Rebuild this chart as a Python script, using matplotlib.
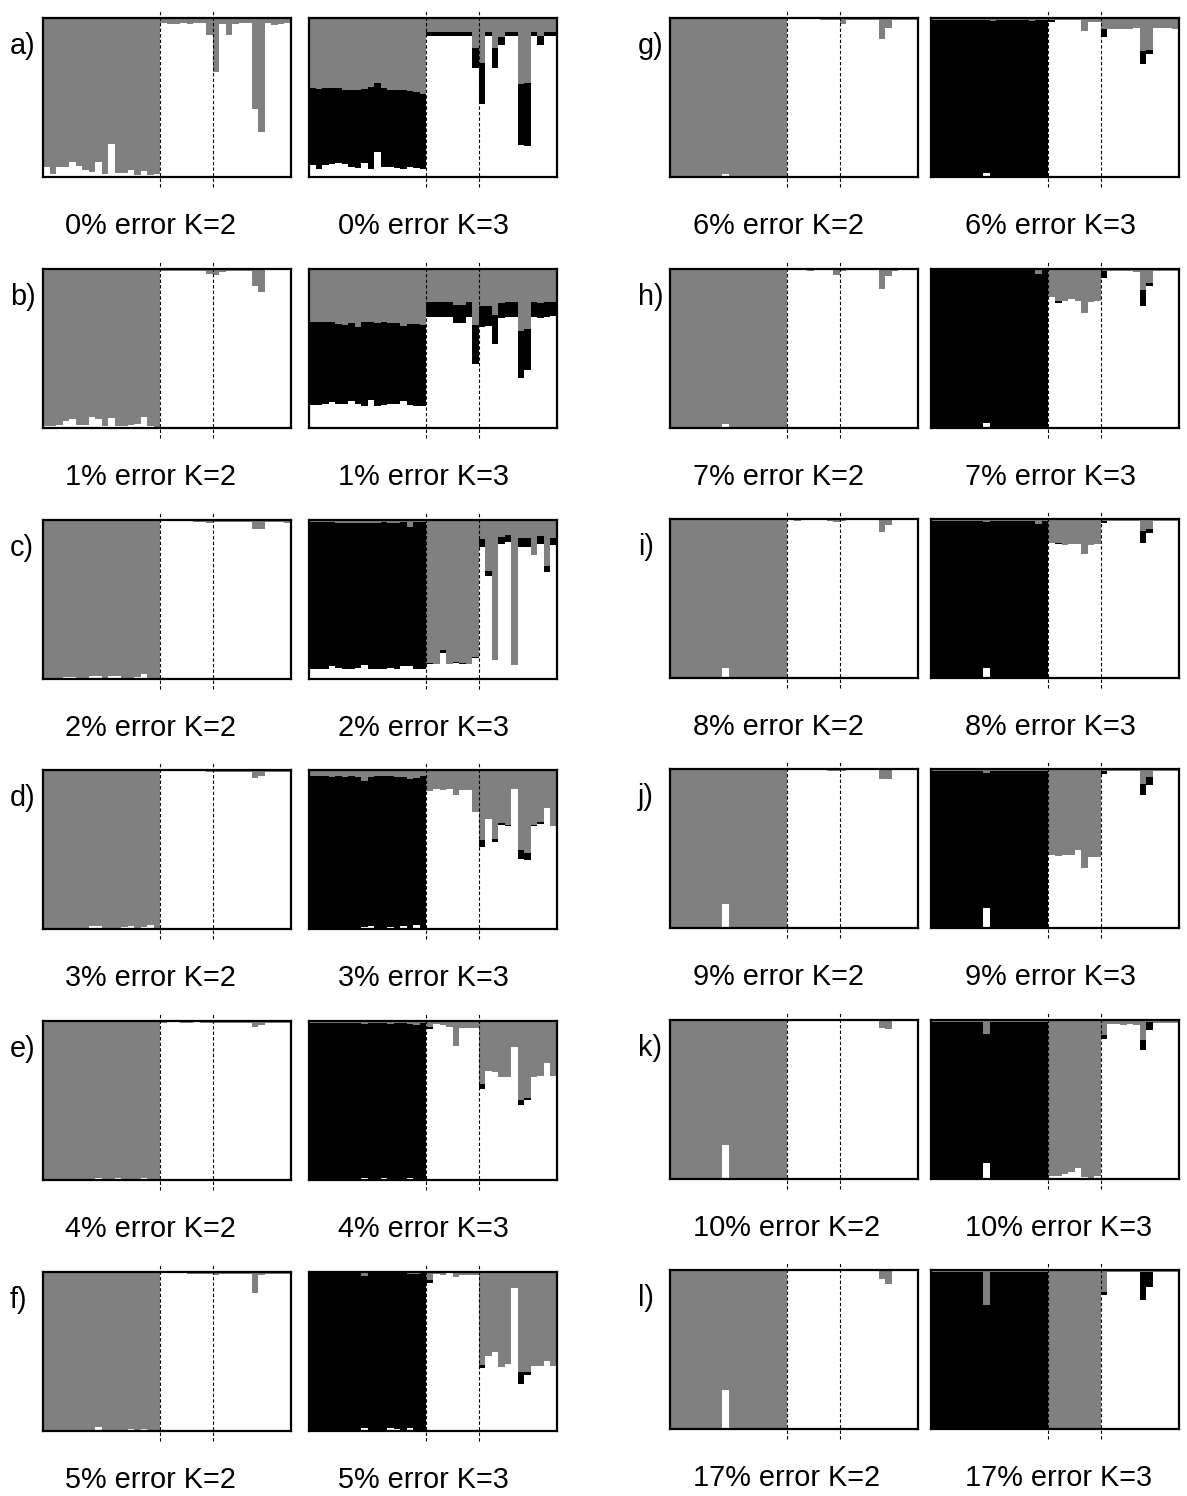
import matplotlib.pyplot as plt
import numpy as np

plt.rcParams['font.family'] = ['Liberation Sans', 'DejaVu Sans']

FIG_W, FIG_H = 1187, 1496
GRAY = '#808080'

# individuals per sampled population, in plotting order
POP_SIZES = [18, 8, 12]

# membership shares per individual: "white" cluster at the bottom,
# "black" cluster in the middle (K=3 only), grey cluster takes the rest

# a) 0% error
A_K2_WHITE = [0.064, 0.017, 0.064, 0.064, 0.095, 0.068, 0.042, 0.030, 0.095,
              0.017, 0.210, 0.028, 0.028, 0.042, 0.013, 0.038, 0.015, 0.020,
              0.970, 0.965, 0.965, 0.970, 0.965, 0.970, 0.970, 0.890,
              0.660, 0.965, 0.890, 0.960, 0.970, 0.970, 0.430, 0.280, 0.970, 0.955, 0.965, 0.970]
A_K3_WHITE = [0.075, 0.050, 0.075, 0.079, 0.090, 0.079, 0.064, 0.058, 0.090,
              0.050, 0.160, 0.064, 0.064, 0.058, 0.050, 0.064, 0.054, 0.050,
              0.884, 0.884, 0.884, 0.884, 0.884, 0.884, 0.884, 0.685,
              0.456, 0.884, 0.685, 0.830, 0.884, 0.884, 0.203, 0.193, 0.884, 0.830, 0.884, 0.884]
A_K3_BLACK = [0.482, 0.505, 0.482, 0.478, 0.467, 0.471, 0.482, 0.492, 0.465,
              0.513, 0.430, 0.493, 0.486, 0.492, 0.496, 0.478, 0.481, 0.475,
              0.030, 0.030, 0.030, 0.030, 0.030, 0.030, 0.030, 0.129,
              0.261, 0.030, 0.129, 0.048, 0.030, 0.030, 0.382, 0.400, 0.030, 0.054, 0.030, 0.030]

# b) 1% error
B_K2_WHITE = [0.013, 0.013, 0.022, 0.047, 0.054, 0.022, 0.022, 0.069, 0.054,
              0.011, 0.065, 0.011, 0.013, 0.017, 0.026, 0.069, 0.011, 0.004,
              0.990, 0.990, 0.988, 0.990, 0.988, 0.990, 0.985, 0.970,
              0.960, 0.980, 0.985, 0.990, 0.990, 0.990, 0.890, 0.855, 0.993, 0.993, 0.993, 0.993]
B_K3_WHITE = [0.143, 0.143, 0.154, 0.165, 0.150, 0.154, 0.171, 0.150, 0.137,
              0.176, 0.137, 0.143, 0.150, 0.154, 0.171, 0.143, 0.137, 0.137,
              0.700, 0.700, 0.700, 0.700, 0.662, 0.662, 0.700, 0.400,
              0.636, 0.640, 0.530, 0.690, 0.700, 0.700, 0.315, 0.364, 0.700, 0.690, 0.700, 0.706]
B_K3_BLACK = [0.525, 0.521, 0.514, 0.499, 0.501, 0.493, 0.487, 0.484, 0.527,
              0.492, 0.521, 0.521, 0.508, 0.508, 0.472, 0.508, 0.518, 0.510,
              0.092, 0.092, 0.092, 0.092, 0.113, 0.113, 0.092, 0.247,
              0.134, 0.130, 0.180, 0.096, 0.090, 0.090, 0.293, 0.261, 0.092, 0.096, 0.092, 0.086]

# c) 2% error
C_K2_WHITE = [0.004, 0.004, 0.004, 0.013, 0.013, 0.009, 0.009, 0.022, 0.022,
              0.009, 0.017, 0.017, 0.009, 0.009, 0.013, 0.034, 0.004, 0.004,
              0.994, 0.994, 0.992, 0.992, 0.992, 0.990, 0.990, 0.980,
              0.985, 0.990, 0.990, 0.990, 0.990, 0.990, 0.946, 0.942, 0.990, 0.990, 0.990, 0.983]
C_K3_WHITE = [0.060, 0.060, 0.060, 0.079, 0.070, 0.062, 0.062, 0.070, 0.085,
              0.062, 0.064, 0.066, 0.068, 0.064, 0.079, 0.081, 0.060, 0.060,
              0.096, 0.092, 0.164, 0.092, 0.100, 0.096, 0.092, 0.134,
              0.830, 0.645, 0.117, 0.851, 0.862, 0.090, 0.830, 0.830, 0.780, 0.851, 0.674, 0.840]
C_K3_BLACK = [0.930, 0.928, 0.925, 0.906, 0.913, 0.921, 0.918, 0.913, 0.895,
              0.918, 0.919, 0.919, 0.912, 0.919, 0.911, 0.876, 0.930, 0.930,
              0.004, 0.004, 0.020, 0.004, 0.004, 0.004, 0.004, 0.004,
              0.053, 0.035, 0.000, 0.043, 0.046, 0.000, 0.057, 0.057, 0.000, 0.047, 0.039, 0.047]

# d) 3% error
D_K2_WHITE = [0.004, 0.004, 0.004, 0.009, 0.009, 0.004, 0.009, 0.017, 0.017,
              0.009, 0.004, 0.009, 0.013, 0.017, 0.009, 0.013, 0.026, 0.004,
              0.995, 0.995, 0.995, 0.995, 0.995, 0.995, 0.995, 0.990,
              0.985, 0.990, 0.990, 0.990, 0.990, 0.990, 0.950, 0.960, 0.990, 0.990, 0.990, 0.990]
D_K3_WHITE = [0.004, 0.004, 0.004, 0.009, 0.004, 0.004, 0.009, 0.004, 0.015,
              0.017, 0.004, 0.009, 0.013, 0.009, 0.017, 0.009, 0.026, 0.004,
              0.865, 0.878, 0.872, 0.878, 0.840, 0.872, 0.872, 0.737,
              0.518, 0.694, 0.550, 0.657, 0.647, 0.878, 0.443, 0.433, 0.647, 0.660, 0.764, 0.650]
D_K3_BLACK = [0.960, 0.958, 0.956, 0.948, 0.956, 0.953, 0.953, 0.953, 0.916,
              0.940, 0.956, 0.951, 0.949, 0.948, 0.936, 0.933, 0.925, 0.960,
              0.000, 0.000, 0.000, 0.000, 0.000, 0.000, 0.000, 0.000,
              0.039, 0.000, 0.015, 0.011, 0.010, 0.000, 0.057, 0.042, 0.010, 0.012, 0.000, 0.000]

# e) 4% error
E_K2_WHITE = [0.006, 0.006, 0.009, 0.006, 0.006, 0.006, 0.009, 0.006, 0.015,
              0.006, 0.009, 0.015, 0.009, 0.009, 0.006, 0.013, 0.006, 0.004,
              0.990, 0.992, 0.992, 0.990, 0.990, 0.992, 0.990, 0.990,
              0.985, 0.990, 0.990, 0.990, 0.990, 0.990, 0.963, 0.974, 0.990, 0.990, 0.990, 0.990]
E_K3_WHITE = [0.006, 0.006, 0.009, 0.006, 0.006, 0.006, 0.009, 0.006, 0.010,
              0.006, 0.009, 0.011, 0.006, 0.009, 0.006, 0.010, 0.006, 0.004,
              0.948, 0.978, 0.974, 0.962, 0.840, 0.957, 0.957, 0.957,
              0.575, 0.683, 0.677, 0.650, 0.647, 0.834, 0.474, 0.504, 0.650, 0.655, 0.737, 0.655]
E_K3_BLACK = [0.979, 0.979, 0.976, 0.979, 0.979, 0.979, 0.976, 0.979, 0.968,
              0.979, 0.976, 0.974, 0.976, 0.976, 0.979, 0.968, 0.970, 0.981,
              0.012, 0.000, 0.000, 0.000, 0.000, 0.000, 0.000, 0.000,
              0.028, 0.000, 0.000, 0.000, 0.000, 0.000, 0.030, 0.013, 0.000, 0.000, 0.000, 0.000]

# f) 5% error
F_K2_WHITE = [0.004, 0.004, 0.006, 0.004, 0.004, 0.006, 0.006, 0.009, 0.026,
              0.006, 0.006, 0.009, 0.009, 0.013, 0.006, 0.013, 0.006, 0.004,
              0.994, 0.994, 0.994, 0.994, 0.990, 0.990, 0.990, 0.985,
              0.983, 0.990, 0.990, 0.990, 0.990, 0.990, 0.870, 0.980, 0.990, 0.990, 0.990, 0.990]
F_K3_WHITE = [0.004, 0.004, 0.006, 0.004, 0.004, 0.006, 0.006, 0.009, 0.021,
              0.006, 0.006, 0.009, 0.019, 0.015, 0.006, 0.021, 0.006, 0.004,
              0.930, 0.990, 0.983, 0.994, 0.968, 0.979, 0.979, 0.979,
              0.394, 0.474, 0.500, 0.404, 0.419, 0.900, 0.298, 0.351, 0.410, 0.410, 0.443, 0.410]
F_K3_BLACK = [0.990, 0.990, 0.988, 0.990, 0.990, 0.988, 0.988, 0.985, 0.951,
              0.988, 0.988, 0.985, 0.975, 0.979, 0.988, 0.964, 0.982, 0.990,
              0.017, 0.000, 0.000, 0.000, 0.000, 0.000, 0.000, 0.000,
              0.021, 0.000, 0.000, 0.000, 0.000, 0.000, 0.070, 0.017, 0.000, 0.000, 0.000, 0.000]

# g) 6% error
G_K2_WHITE = [0.004, 0.004, 0.006, 0.004, 0.006, 0.004, 0.006, 0.009, 0.017,
              0.006, 0.004, 0.009, 0.006, 0.006, 0.006, 0.009, 0.006, 0.004,
              0.994, 0.994, 0.994, 0.994, 0.994, 0.990, 0.990, 0.990,
              0.960, 0.990, 0.990, 0.990, 0.990, 0.990, 0.866, 0.940, 0.990, 0.990, 0.990, 0.990]
G_K3_WHITE = [0.008, 0.004, 0.006, 0.004, 0.006, 0.004, 0.006, 0.006, 0.025,
              0.006, 0.004, 0.006, 0.006, 0.006, 0.006, 0.008, 0.006, 0.004,
              0.975, 0.985, 0.990, 0.985, 0.985, 0.920, 0.975, 0.975,
              0.880, 0.932, 0.928, 0.928, 0.928, 0.936, 0.710, 0.773, 0.936, 0.940, 0.936, 0.928]
G_K3_BLACK = [0.980, 0.986, 0.984, 0.986, 0.984, 0.986, 0.984, 0.984, 0.965,
              0.978, 0.986, 0.984, 0.984, 0.984, 0.984, 0.974, 0.984, 0.986,
              0.010, 0.000, 0.000, 0.000, 0.000, 0.000, 0.000, 0.000,
              0.050, 0.000, 0.000, 0.000, 0.000, 0.000, 0.084, 0.027, 0.000, 0.000, 0.000, 0.000]

# h) 7% error
H_K2_WHITE = [0.004, 0.004, 0.004, 0.006, 0.004, 0.004, 0.006, 0.006, 0.027,
              0.006, 0.004, 0.006, 0.006, 0.006, 0.006, 0.006, 0.004, 0.004,
              0.994, 0.994, 0.994, 0.990, 0.994, 0.994, 0.994, 0.965,
              0.990, 0.994, 0.994, 0.994, 0.994, 0.994, 0.872, 0.958, 0.990, 0.994, 0.994, 0.994]
H_K3_WHITE = [0.004, 0.004, 0.004, 0.006, 0.004, 0.004, 0.006, 0.006, 0.030,
              0.006, 0.004, 0.006, 0.006, 0.006, 0.006, 0.006, 0.004, 0.004,
              0.822, 0.784, 0.800, 0.810, 0.800, 0.725, 0.795, 0.800,
              0.943, 0.985, 0.985, 0.985, 0.985, 0.983, 0.767, 0.890, 0.985, 0.985, 0.985, 0.985]
H_K3_BLACK = [0.988, 0.988, 0.988, 0.986, 0.988, 0.988, 0.986, 0.986, 0.962,
              0.986, 0.988, 0.986, 0.986, 0.986, 0.986, 0.986, 0.966, 0.988,
              0.000, 0.016, 0.000, 0.000, 0.000, 0.000, 0.000, 0.000,
              0.042, 0.000, 0.000, 0.000, 0.000, 0.000, 0.102, 0.025, 0.000, 0.000, 0.000, 0.000]

# i) 8% error
I_K2_WHITE = [0.004, 0.004, 0.004, 0.004, 0.004, 0.004, 0.006, 0.004, 0.064,
              0.004, 0.004, 0.009, 0.006, 0.004, 0.004, 0.006, 0.004, 0.004,
              0.994, 0.990, 0.994, 0.994, 0.994, 0.994, 0.990, 0.983,
              0.990, 0.994, 0.994, 0.994, 0.994, 0.994, 0.920, 0.962, 0.994, 0.994, 0.994, 0.994]
I_K3_WHITE = [0.004, 0.004, 0.004, 0.004, 0.004, 0.004, 0.006, 0.004, 0.064,
              0.004, 0.004, 0.009, 0.006, 0.004, 0.004, 0.006, 0.004, 0.004,
              0.851, 0.840, 0.836, 0.845, 0.845, 0.777, 0.836, 0.840,
              0.972, 0.989, 0.989, 0.989, 0.989, 0.989, 0.851, 0.915, 0.989, 0.989, 0.989, 0.987]
I_K3_BLACK = [0.985, 0.985, 0.985, 0.985, 0.985, 0.985, 0.983, 0.985, 0.915,
              0.983, 0.985, 0.978, 0.981, 0.985, 0.985, 0.981, 0.964, 0.985,
              0.000, 0.008, 0.000, 0.000, 0.000, 0.000, 0.000, 0.000,
              0.017, 0.000, 0.000, 0.000, 0.000, 0.000, 0.075, 0.021, 0.000, 0.000, 0.000, 0.000]

# j) 9% error
J_K2_WHITE = [0.004, 0.004, 0.004, 0.004, 0.004, 0.004, 0.006, 0.004, 0.149,
              0.004, 0.004, 0.006, 0.006, 0.004, 0.004, 0.006, 0.004, 0.004,
              0.994, 0.994, 0.994, 0.994, 0.994, 0.994, 0.990, 0.990,
              0.990, 0.994, 0.994, 0.994, 0.994, 0.994, 0.940, 0.940, 0.994, 0.994, 0.994, 0.994]
J_K3_WHITE = [0.004, 0.004, 0.004, 0.004, 0.004, 0.004, 0.006, 0.004, 0.128,
              0.004, 0.004, 0.006, 0.006, 0.004, 0.004, 0.006, 0.004, 0.004,
              0.457, 0.453, 0.457, 0.462, 0.490, 0.377, 0.447, 0.447,
              0.968, 0.985, 0.985, 0.985, 0.985, 0.985, 0.836, 0.900, 0.985, 0.985, 0.985, 0.985]
J_K3_BLACK = [0.985, 0.985, 0.985, 0.985, 0.985, 0.985, 0.983, 0.985, 0.844,
              0.985, 0.985, 0.983, 0.983, 0.985, 0.985, 0.983, 0.981, 0.985,
              0.000, 0.000, 0.000, 0.000, 0.000, 0.000, 0.000, 0.000,
              0.021, 0.000, 0.000, 0.000, 0.000, 0.000, 0.068, 0.051, 0.000, 0.000, 0.000, 0.000]

# k) 10% error
K_K2_WHITE = [0.004, 0.004, 0.004, 0.004, 0.004, 0.004, 0.006, 0.004, 0.216,
              0.004, 0.004, 0.006, 0.006, 0.004, 0.004, 0.006, 0.004, 0.004,
              0.994, 0.994, 0.994, 0.994, 0.994, 0.994, 0.994, 0.994,
              0.994, 0.994, 0.994, 0.994, 0.994, 0.994, 0.950, 0.943, 0.994, 0.994, 0.994, 0.994]
K_K3_WHITE = [0.004, 0.004, 0.004, 0.008, 0.004, 0.004, 0.006, 0.004, 0.100,
              0.004, 0.004, 0.008, 0.006, 0.004, 0.004, 0.006, 0.004, 0.004,
              0.020, 0.020, 0.030, 0.047, 0.068, 0.015, 0.008, 0.017,
              0.883, 0.975, 0.975, 0.970, 0.975, 0.970, 0.810, 0.936, 0.980, 0.980, 0.980, 0.980]
K_K3_BLACK = [0.986, 0.986, 0.986, 0.982, 0.986, 0.986, 0.984, 0.986, 0.811,
              0.986, 0.986, 0.982, 0.984, 0.986, 0.986, 0.984, 0.986, 0.986,
              0.000, 0.000, 0.000, 0.000, 0.000, 0.000, 0.000, 0.000,
              0.022, 0.000, 0.000, 0.000, 0.000, 0.000, 0.067, 0.054, 0.000, 0.000, 0.000, 0.000]

# l) 17% error
L_K2_WHITE = [0.004, 0.004, 0.004, 0.004, 0.004, 0.004, 0.006, 0.004, 0.244,
              0.004, 0.004, 0.006, 0.006, 0.004, 0.004, 0.006, 0.004, 0.004,
              0.994, 0.994, 0.994, 0.994, 0.994, 0.994, 0.994, 0.994,
              0.994, 0.994, 0.994, 0.994, 0.994, 0.994, 0.943, 0.911, 0.994, 0.994, 0.994, 0.994]
L_K3_WHITE = [0.004, 0.004, 0.004, 0.006, 0.004, 0.004, 0.006, 0.004, 0.008,
              0.004, 0.004, 0.006, 0.006, 0.004, 0.004, 0.006, 0.004, 0.004,
              0.006, 0.006, 0.006, 0.006, 0.006, 0.006, 0.006, 0.006,
              0.841, 0.990, 0.990, 0.990, 0.990, 0.990, 0.814, 0.890, 0.990, 0.990, 0.990, 0.990]
L_K3_BLACK = [0.986, 0.986, 0.986, 0.984, 0.986, 0.986, 0.984, 0.986, 0.770,
              0.986, 0.986, 0.984, 0.984, 0.986, 0.986, 0.984, 0.986, 0.986,
              0.000, 0.000, 0.000, 0.000, 0.000, 0.000, 0.000, 0.000,
              0.021, 0.000, 0.000, 0.000, 0.000, 0.000, 0.171, 0.095, 0.000, 0.000, 0.000, 0.000]

LETTERS = ['a', 'b', 'c', 'd', 'e', 'f', 'g', 'h', 'i', 'j', 'k', 'l']
ERROR_RATES = ['0%', '1%', '2%', '3%', '4%', '5%', '6%', '7%', '8%', '9%', '10%', '17%']
K2_WHITE = [A_K2_WHITE, B_K2_WHITE, C_K2_WHITE, D_K2_WHITE, E_K2_WHITE, F_K2_WHITE,
            G_K2_WHITE, H_K2_WHITE, I_K2_WHITE, J_K2_WHITE, K_K2_WHITE, L_K2_WHITE]
K3_WHITE = [A_K3_WHITE, B_K3_WHITE, C_K3_WHITE, D_K3_WHITE, E_K3_WHITE, F_K3_WHITE,
            G_K3_WHITE, H_K3_WHITE, I_K3_WHITE, J_K3_WHITE, K_K3_WHITE, L_K3_WHITE]
K3_BLACK = [A_K3_BLACK, B_K3_BLACK, C_K3_BLACK, D_K3_BLACK, E_K3_BLACK, F_K3_BLACK,
            G_K3_BLACK, H_K3_BLACK, I_K3_BLACK, J_K3_BLACK, K_K3_BLACK, L_K3_BLACK]

# page layout in pixels
BOX_W, BOX_H = 248, 159
COL_X = [(43, 309), (670, 931)]          # K=2 box, K=3 box
ROW_TOP = [[18, 269, 520, 770, 1021, 1272], [18, 269, 519, 769, 1020, 1270]]
LABEL_X = [(65, 338), (693, 965)]
LETTER_X = [10, 638]
FONT_SIZE = 20.8


def add_box(fig, left, top):
    return fig.add_axes([left / FIG_W, 1 - (top + BOX_H) / FIG_H, BOX_W / FIG_W, BOX_H / FIG_H])


def draw_structure(ax, white, black=None):
    n = len(white)
    xs = np.arange(n)
    white = np.asarray(white)
    black = np.zeros(n) if black is None else np.asarray(black)
    gray = 1 - white - black
    kw = dict(width=1.0, align='edge', linewidth=0, antialiased=False)
    ax.bar(xs, white, color='white', **kw)
    if black.any():
        ax.bar(xs, black, bottom=white, color='black', **kw)
    ax.bar(xs, gray, bottom=white + black, color=GRAY, **kw)
    ax.set_xlim(0, n)
    ax.set_ylim(0, 1)
    ax.set_xticks([])
    ax.set_yticks([])
    for sp in ax.spines.values():
        sp.set_linewidth(1.6)
        sp.set_zorder(5)
    for b in np.cumsum(POP_SIZES)[:-1]:
        ax.plot([b, b], [-0.065, 1.05], color='black', lw=0.8,
                ls=(0, (3, 2)), clip_on=False, zorder=6)


fig = plt.figure(figsize=(FIG_W / 100, FIG_H / 100), dpi=100)

for i, letter in enumerate(LETTERS):
    col, row = divmod(i, 6)
    top = ROW_TOP[col][row]
    x2, x3 = COL_X[col]

    draw_structure(add_box(fig, x2, top), K2_WHITE[i])
    draw_structure(add_box(fig, x3, top), K3_WHITE[i], K3_BLACK[i])

    label_y = 1 - (top + 208) / FIG_H
    fig.text(LABEL_X[col][0] / FIG_W, label_y, f'{ERROR_RATES[i]} error K=2',
             ha='left', va='center', fontsize=FONT_SIZE)
    fig.text(LABEL_X[col][1] / FIG_W, label_y, f'{ERROR_RATES[i]} error K=3',
             ha='left', va='center', fontsize=FONT_SIZE)
    fig.text(LETTER_X[col] / FIG_W, 1 - (top + 28) / FIG_H, f'{letter})',
             ha='left', va='center', fontsize=FONT_SIZE)

fig.savefig('out.png', dpi=100, facecolor='white')
